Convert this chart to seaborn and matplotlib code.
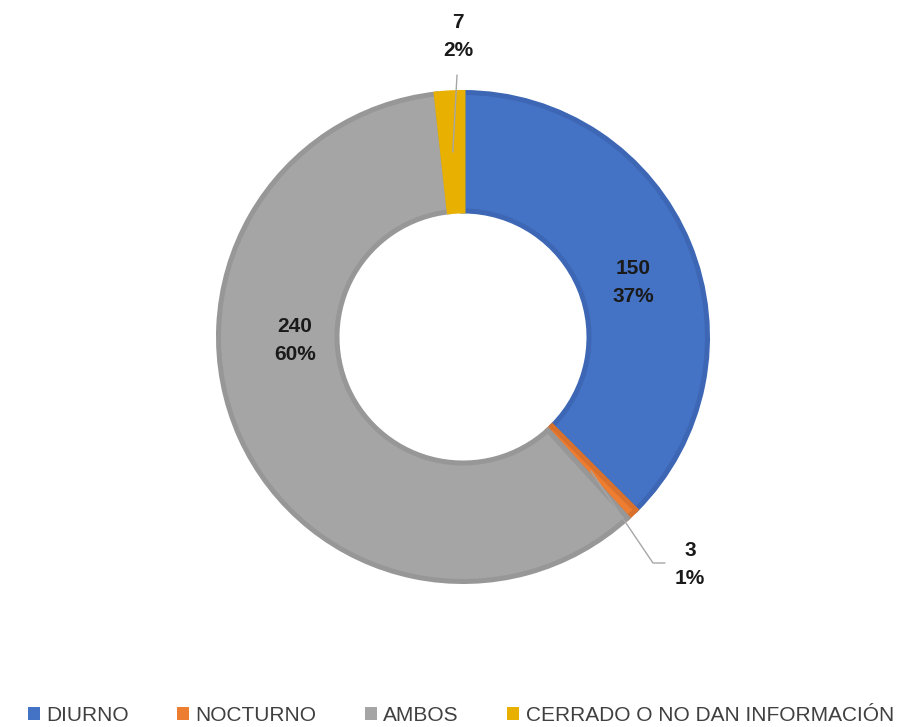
import numpy as np
import matplotlib
matplotlib.use('Agg')
import matplotlib.pyplot as plt
import seaborn as sns
from matplotlib.patches import Patch

categories = ['DIURNO', 'NOCTURNO', 'AMBOS', 'CERRADO O NO DAN INFORMACIÓN']
values = [150, 3, 240, 7]
pct_labels = ['37%', '1%', '60%', '2%']
colors = ['#4472C4', '#ED7D31', '#A5A5A5', '#E8B000']
edge_colors = ['#3D67B5', '#D9712C', '#979797', '#E8B000']

sns.set_theme(style='white')
plt.rcParams['font.family'] = ['Liberation Sans Narrow', 'Liberation Sans', 'DejaVu Sans']

fig = plt.figure(figsize=(9.07, 7.27), dpi=100)
ax = fig.add_axes([0, 0, 1, 1])

# pixel -> data helpers (radius 1 == 247 px, centre at 463,337)
R = 247.0
cx, cy = 463.0, 337.0
def px(x, y):
    return ((x - cx) / R, (cy - y) / R)

edge_px = 5.0
half = edge_px / 2 / R
wedges, _ = ax.pie(values, colors=colors, startangle=90, counterclock=False,
                   radius=1.0 - half,
                   wedgeprops=dict(width=0.5 - 2 * half, linewidth=edge_px * 0.72))
for w, ec in zip(wedges, edge_colors):
    w.set_edgecolor(ec)

ax.set_xlim(-cx / R, (907 - cx) / R)
ax.set_ylim(-(727 - cy) / R, cy / R)
ax.set_aspect('auto')
ax.axis('off')

def mid_point(w, r=0.75):
    ang = np.deg2rad((w.theta1 + w.theta2) / 2)
    return r * np.cos(ang), r * np.sin(ang)

lab_kw = dict(ha='center', va='center', fontsize=15, fontweight='bold',
              color='#1a1a1a', linespacing=1.6)

# inside labels
ax.text(*px(633, 282), f'{values[0]}\n{pct_labels[0]}', **lab_kw)
ax.text(*px(295, 340), f'{values[2]}\n{pct_labels[2]}', **lab_kw)

# outside labels with leader lines
ax.text(*px(458, 36), f'{values[3]}\n{pct_labels[3]}', **lab_kw)
ax0 = mid_point(wedges[3])
top = px(457, 75)
ax.plot([ax0[0], top[0]], [ax0[1], top[1]], color='#A6A6A6', lw=1)

ax.text(*px(690, 564), f'{values[1]}\n{pct_labels[1]}', **lab_kw)
a1 = mid_point(wedges[1])
e1 = px(653, 563)
e2 = px(665, 563)
ax.plot([a1[0], e1[0], e2[0]], [a1[1], e1[1], e2[1]], color='#A6A6A6', lw=1)

handles = [Patch(facecolor=c, edgecolor='none') for c in colors]
fig.legend(handles, categories, loc='center', bbox_to_anchor=(0.508, 0.016),
           ncol=4, frameon=False, fontsize=15, handlelength=0.6, handleheight=0.6,
           handletextpad=0.3, columnspacing=2.3, labelcolor='#404040')

fig.savefig('out.png', dpi=100)
